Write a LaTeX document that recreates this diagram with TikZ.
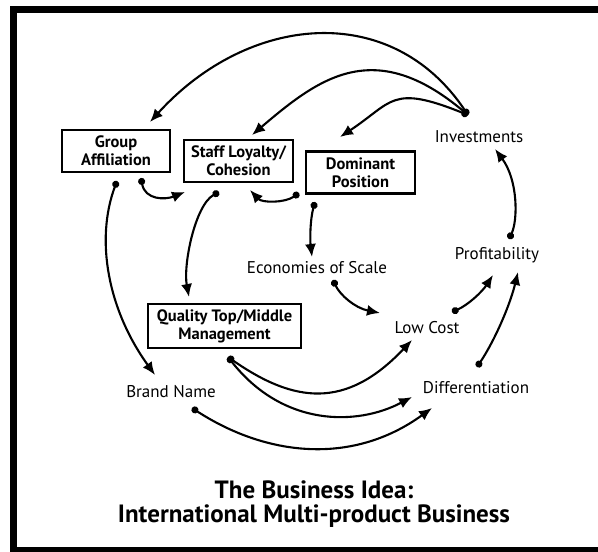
\documentclass[tikz,border=0pt]{standalone}
\usepackage{fontspec}
\setmainfont{PT Sans}
\usetikzlibrary{arrows.meta}

\begin{document}
\begin{tikzpicture}[x=1pt,y=-1pt,
    link/.style={{Circle[length=7pt]}-{Latex[length=13pt,width=11pt]},line width=2.1pt},
    box node/.style={draw,line width=2.6pt,align=center,inner sep=0pt,
      minimum height=42pt,font=\fontsize{16.5}{18}\selectfont\bfseries},
    label node/.style={anchor=base,inner sep=0pt,font=\fontsize{17}{18}\selectfont}]

    \useasboundingbox (0,0) rectangle (598,552);
    \draw[line width=7pt] (13,9) rectangle (640,550);

    % Define vertices
    \node[box node,minimum width=108pt] (ga) at (116,151) {Group\\Affiliation};
    \node[box node,minimum width=109pt] (sl) at (238.5,161) {Staff Loyalty/\\Cohesion};
    \node[box node,minimum width=109pt] (dom) at (360.5,172.5) {Dominant\\Position};
    \node[box node,minimum width=153pt,minimum height=44pt] (qm) at (224.5,326) {Quality Top/Middle\\Management};
    \node[label node] (inv) at (479,142) {Investments};
    \node[label node] (profit) at (497,259) {Profitability};
    \node[label node] (econ) at (317,273) {Economies of Scale};
    \node[label node] (low) at (427,333) {Low Cost};
    \node[label node] (diff) at (476,393) {Differentiation};
    \node[label node] (brand) at (171,397) {Brand Name};
    \node[align=center,inner sep=0pt,font=\fontsize{25}{24}\selectfont\bfseries] (title) at (314,504)
      {The Business Idea:\\International Multi-product Business};

    % Draw edges
    \draw[link] ([shift={(-11,-27)}]inv.base) .. controls +(-77,-115) and +(98,-108) .. ([shift={(34,-29)}]ga.center);
    \draw[link] ([shift={(-11,-27)}]inv.base) .. controls +(-94,-79) and +(67,-57) .. ([shift={(13.5,-26)}]sl.center);
    \draw[link] ([shift={(-11,-27)}]inv.base) .. controls +(-77,-31) and +(53,-35) .. ([shift={(-20.5,-35.5)}]dom.center);
    \draw[link] ([shift={(25,27)}]ga.center) .. controls +(4,22) and +(-20,8) .. ([shift={(-53.5,31)}]sl.center);
    \draw[link] ([shift={(-61.5,20.5)}]dom.center) .. controls +(-14,10) and +(12,13) .. ([shift={(11.5,29)}]sl.center);
    \draw[link] ([shift={(1,30)}]ga.center) .. controls +(-22,59) and +(-47,-65) .. ([shift={(-16,-22)}]brand.base);
    \draw[link] ([shift={(-19.5,31)}]sl.center) .. controls +(-24,13) and +(-6,-32) .. ([shift={(-35.5,-29)}]qm.center);
    \draw[link] ([shift={(-45.5,29.5)}]dom.center) .. controls +(-5,18) and +(-2,-17) .. ([shift={(-5,-16)}]econ.base);
    \draw[link] ([shift={(16,7)}]econ.base) .. controls +(7,15) and +(-25,-5) .. ([shift={(-47,-20)}]low.base);
    \draw[link] ([shift={(25,-21)}]low.base) .. controls +(16,-7) and +(-11,17) .. ([shift={(-4,16)}]profit.base);
    \draw[link] ([shift={(1,-26)}]diff.base) .. controls +(18,-27) and +(-8,33) .. ([shift={(21,13)}]profit.base);
    \draw[link] ([shift={(12,-20)}]profit.base) .. controls +(9,-19) and +(23,31) .. ([shift={(16,7)}]inv.base);
    \draw[link] ([shift={(3.5,31)}]qm.center) .. controls +(66,46) and +(-66,70) .. ([shift={(-15,7)}]low.base);
    \draw[link] ([shift={(3.5,31)}]qm.center) .. controls +(55,70) and +(-55,29) .. ([shift={(-64,4)}]diff.base);
    \draw[link] ([shift={(21,11)}]brand.base) .. controls +(74,48) and +(-80,58) .. ([shift={(-44,15)}]diff.base);

\end{tikzpicture}
\end{document}
